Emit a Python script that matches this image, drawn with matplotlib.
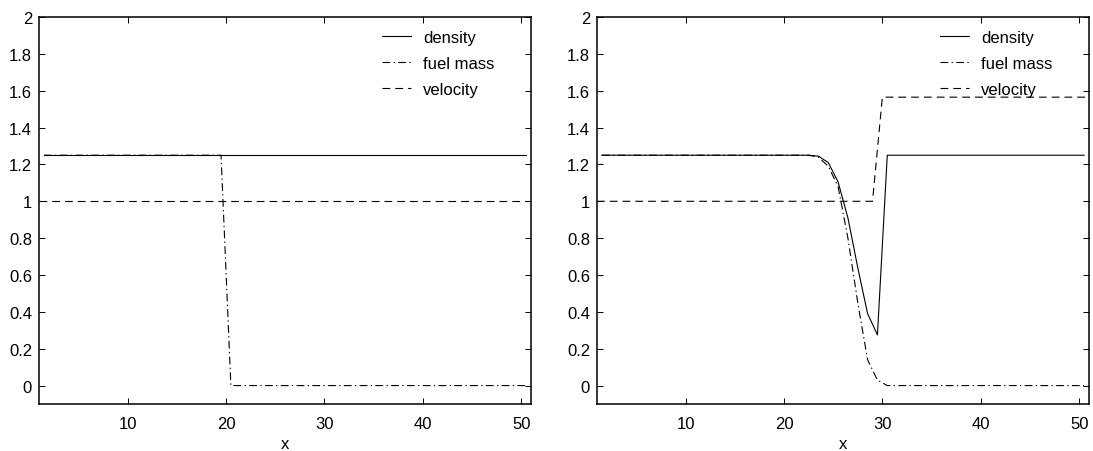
import numpy as np
import matplotlib
matplotlib.use("Agg")
import matplotlib.pyplot as plt

plt.rcParams['font.family'] = ['Liberation Sans', 'DejaVu Sans']

# cell centres (density, fuel) and faces (velocity)
x_c = np.arange(1.5, 51.0, 1.0)
x_f = np.arange(1.0, 52.0, 1.0)

# ---- left panel (initial state) ----
left_density = [1.25] * 50
left_fuel = [1.25] * 19 + [0.0] * 31
left_velocity = [1.0] * 51

# ---- right panel (later state) ----
right_density = ([1.25] * 22 +
                 [1.245, 1.21, 1.105, 0.91, 0.64, 0.39, 0.275] +
                 [1.25] * 21)
right_fuel = ([1.25] * 22 +
              [1.24, 1.19, 1.08, 0.80, 0.45, 0.14, 0.03] +
              [0.0] * 21)
right_velocity = [1.0] * 29 + [1.565] * 22

labels = ["density", "fuel mass", "velocity"]
xticks = [10, 20, 30, 40, 50]
yticks = [0, 0.2, 0.4, 0.6, 0.8, 1, 1.2, 1.4, 1.6, 1.8, 2]
yticklabels = ["0", "0.2", "0.4", "0.6", "0.8", "1", "1.2", "1.4", "1.6", "1.8", "2"]

fig = plt.figure(figsize=(10.93, 4.52), dpi=100)
positions = [[39/1093, 47/452, 492/1093, 387/452],
             [597/1093, 47/452, 492/1093, 387/452]]
panels = [(left_density, left_fuel, left_velocity),
          (right_density, right_fuel, right_velocity)]

fs = 12
for pos, (d, f, v) in zip(positions, panels):
    ax = fig.add_axes(pos)
    lw = 0.8
    ax.plot(x_c, d, color='black', lw=lw, linestyle='-', label=labels[0])
    ax.plot(x_c, f, color='black', lw=lw, linestyle=(0, (7, 3, 1.2, 3)), label=labels[1])
    ax.plot(x_f, v, color='black', lw=lw, linestyle=(0, (7, 4.5)), label=labels[2])
    ax.set_xlim(1, 51)
    ax.set_ylim(-0.1, 2)
    ax.set_xticks(xticks)
    ax.set_yticks(yticks)
    ax.set_yticklabels(yticklabels)
    ax.tick_params(direction='in', top=True, right=True, length=4, width=0.7,
                   labelsize=fs, colors='black')
    ax.tick_params(axis='x', pad=9)
    ax.tick_params(axis='y', pad=5)
    for s in ax.spines.values():
        s.set_linewidth(1.1)
    ax.set_xlabel("x", fontsize=fs, labelpad=3)
    ax.legend(loc='upper left', bbox_to_anchor=(343/492, 0.967), frameon=False,
              fontsize=fs, handlelength=1.75, handletextpad=0.7,
              labelspacing=0.66, borderpad=0, borderaxespad=0)

fig.savefig("out.png", dpi=100)
